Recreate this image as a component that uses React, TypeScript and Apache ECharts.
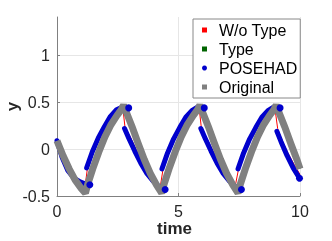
import React, { useEffect, useRef } from 'react';
import * as echarts from 'echarts';

const FONT = '"Liberation Sans", Arial, Helvetica, sans-serif';

// axis ticks
const xTicks = [0, 5, 10];
const yTicks = [-0.5, 0, 0.5, 1];
const yMax = 1.41;

const seriesNames = ['W/o Type', 'Type', 'POSEHAD', 'Original'];
const seriesColors = ['#ff0000', '#006400', '#0000cc', '#808080'];

// Original (gray, thick)
const originalPoints: [number, number][] = [
  [0, 0.09], [0.25, -0.07], [0.5, -0.21], [0.75, -0.33], [1.0, -0.42], [1.17, -0.47],
  [1.27, -0.37], [1.47, -0.21], [1.72, -0.03], [1.97, 0.13], [2.22, 0.26], [2.47, 0.36], [2.64, 0.42], [2.74, 0.47],
  [2.89, 0.37], [3.09, 0.24], [3.34, 0.06], [3.59, -0.11], [3.84, -0.26], [4.09, -0.38], [4.31, -0.47],
  [4.41, -0.37], [4.61, -0.21], [4.86, -0.03], [5.11, 0.13], [5.36, 0.26], [5.61, 0.36], [5.78, 0.42], [5.88, 0.47],
  [6.03, 0.37], [6.23, 0.24], [6.48, 0.06], [6.73, -0.11], [6.98, -0.26], [7.23, -0.38], [7.45, -0.47],
  [7.55, -0.37], [7.75, -0.21], [8.0, -0.03], [8.25, 0.13], [8.5, 0.26], [8.75, 0.36], [8.92, 0.42], [9.02, 0.47],
  [9.17, 0.37], [9.37, 0.24], [9.62, 0.06], [9.87, -0.11], [10, -0.21],
];

// Type (dark green) lies entirely under the Original curve
const typePoints: [number, number][] = originalPoints;

// W/o Type (thin red)
const woTypePoints: [number, number][] = [
  [0, 0.09], [0.25, -0.07], [0.5, -0.21], [0.75, -0.33], [1.0, -0.42], [1.12, -0.46],
  [1.25, -0.21], [1.45, -0.05], [1.7, 0.11], [1.95, 0.23], [2.2, 0.33], [2.45, 0.41], [2.7, 0.46],
  [2.8, 0.23], [3.0, 0.14], [3.25, 0.0], [3.5, -0.12], [3.75, -0.23], [4.0, -0.33], [4.22, -0.45],
  [4.36, -0.22], [4.55, -0.06], [4.8, 0.1], [5.05, 0.22], [5.3, 0.32], [5.55, 0.4], [5.84, 0.46],
  [5.94, 0.23], [6.15, 0.12], [6.4, -0.01], [6.65, -0.13], [6.9, -0.24], [7.15, -0.35], [7.3, -0.44],
  [7.45, -0.24], [7.68, -0.06], [7.93, 0.1], [8.18, 0.22], [8.43, 0.32], [8.68, 0.4], [8.95, 0.47],
  [9.08, 0.22], [9.25, 0.1], [9.5, -0.04], [9.75, -0.16], [10, -0.27],
];

// POSEHAD (blue dots), piecewise
const posehadSeg1: [number, number][] = [[0, 0.09], [0.2, -0.08], [0.45, -0.23], [0.7, -0.31], [0.95, -0.35], [1.15, -0.37], [1.35, -0.38]];
const posehadSeg2: [number, number][] = [[1.22, -0.2], [1.45, -0.03], [1.7, 0.12], [1.95, 0.24], [2.2, 0.35], [2.45, 0.42], [2.7, 0.45], [2.95, 0.44]];
const posehadSeg3: [number, number][] = [[2.78, 0.22], [2.95, 0.12], [3.2, -0.02], [3.45, -0.15], [3.7, -0.26], [3.95, -0.34], [4.2, -0.4], [4.45, -0.43]];
const posehadSeg4: [number, number][] = [[4.32, -0.21], [4.55, -0.04], [4.8, 0.11], [5.05, 0.23], [5.3, 0.34], [5.55, 0.41], [5.8, 0.45], [6.06, 0.44]];
const posehadSeg5: [number, number][] = [[5.92, 0.22], [6.09, 0.12], [6.34, -0.02], [6.59, -0.15], [6.84, -0.26], [7.09, -0.34], [7.34, -0.4], [7.59, -0.43]];
const posehadSeg6: [number, number][] = [[7.45, -0.21], [7.68, -0.04], [7.93, 0.11], [8.18, 0.23], [8.43, 0.34], [8.68, 0.41], [8.93, 0.45], [9.18, 0.44]];
const posehadSeg7: [number, number][] = [[9.05, 0.19], [9.22, 0.08], [9.47, -0.07], [9.72, -0.2], [9.98, -0.31]];
const posehadSegments = [posehadSeg1, posehadSeg2, posehadSeg3, posehadSeg4, posehadSeg5, posehadSeg6, posehadSeg7];

const legendIcons = ['rect', 'rect', 'circle', 'rect'];

function buildOption(): any {
  const series: any[] = [];
  series.push({
    name: seriesNames[0], type: 'line', data: woTypePoints, showSymbol: false, silent: true,
    lineStyle: { width: 1, color: seriesColors[0] }, itemStyle: { color: seriesColors[0] },
  });
  series.push({
    name: seriesNames[1], type: 'line', data: typePoints, showSymbol: false, silent: true,
    lineStyle: { width: 1, color: seriesColors[1] }, itemStyle: { color: seriesColors[1] },
  });
  posehadSegments.forEach((seg) => {
    series.push({
      name: seriesNames[2], type: 'line', silent: true,
      data: seg.map((p, i) => (i === seg.length - 1 ? { value: p, symbol: 'circle', symbolSize: 7 } : { value: p, symbol: 'none' })),
      showSymbol: true,
      lineStyle: { width: 5, color: seriesColors[2], cap: 'round', join: 'round' },
      itemStyle: { color: seriesColors[2] },
    });
  });
  series.push({
    name: seriesNames[3], type: 'line', data: originalPoints, showSymbol: false, silent: true,
    lineStyle: { width: 7, color: seriesColors[3], join: 'miter', miterLimit: 2 }, itemStyle: { color: seriesColors[3] },
  });

  return {
    animation: false,
    textStyle: { fontFamily: FONT },
    grid: { left: 57, right: 32, top: 17, bottom: 45, outerBoundsMode: 'none', containLabel: false },
    legend: {
      orient: 'vertical', left: 193, top: 19,
      data: seriesNames.map((n, i) => ({ name: n, icon: legendIcons[i], itemStyle: { color: seriesColors[i] } })),
      itemWidth: 5, itemHeight: 5, itemGap: 3,
      padding: [3, 3, 3, 9],
      borderColor: '#888', borderWidth: 1, backgroundColor: '#ffffff',
      textStyle: { fontSize: 16, color: '#000', fontFamily: FONT, padding: [0, 0, 0, 7] },
      selectedMode: false,
    },
    xAxis: {
      type: 'value', min: xTicks[0], max: xTicks[xTicks.length - 1], interval: xTicks[1] - xTicks[0],
      name: 'time', nameLocation: 'middle', nameGap: 24, nameMoveOverlap: false,
      nameTextStyle: { fontSize: 17, fontWeight: 'bold', color: '#262626', fontFamily: FONT, padding: [0, 8, 0, 0] },
      axisLine: { onZero: false, lineStyle: { color: '#808080' } },
      axisTick: { inside: true, length: 3, lineStyle: { color: '#808080' } },
      axisLabel: { fontSize: 16, color: '#262626', margin: 7, fontFamily: FONT },
      splitLine: { show: true, lineStyle: { color: '#e6e6e6' } },
    },
    yAxis: {
      type: 'value', min: yTicks[0], max: yMax, interval: yTicks[1] - yTicks[0],
      name: 'y', nameLocation: 'middle', nameGap: 36, nameRotate: 90, nameMoveOverlap: false,
      nameTextStyle: { fontSize: 17, fontWeight: 'bold', color: '#262626', fontFamily: FONT },
      axisLine: { show: true, onZero: false, lineStyle: { color: '#808080' } },
      axisTick: { show: true, inside: true, length: 3, lineStyle: { color: '#808080' } },
      axisLabel: { fontSize: 16, color: '#262626', margin: 7, showMaxLabel: false, fontFamily: FONT },
      splitLine: { show: true, showMaxLine: false, lineStyle: { color: '#e6e6e6' } },
    },
    series,
  };
}

export default function App() {
  const ref = useRef<HTMLDivElement>(null);
  useEffect(() => {
    document.body.style.margin = '0';
    const chart = echarts.init(ref.current as HTMLDivElement, null, { renderer: 'svg' });
    chart.setOption(buildOption());
    return () => chart.dispose();
  }, []);
  return <div ref={ref} style={{ position: 'fixed', left: 0, top: 0, width: 332, height: 241 }} />;
}
